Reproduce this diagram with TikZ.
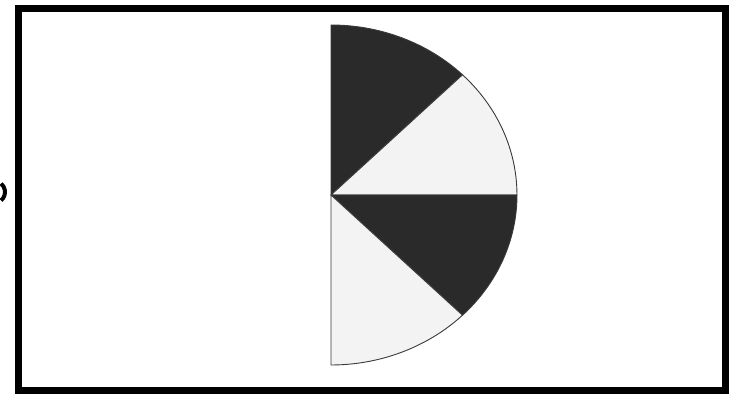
\documentclass[tikz,border=0pt]{standalone}
\usetikzlibrary{calc}
\definecolor{darkfill}{HTML}{2A2A2A}
\definecolor{lightfill}{HTML}{F3F3F3}
\definecolor{edge}{HTML}{3A3A3A}
\tikzset{
  sector/.style={draw=edge, line width=0.9pt, line join=round},
  frame/.style={draw=black, line width=7pt},
}
\begin{document}
\begin{tikzpicture}[x=1pt,y=1pt]
  \useasboundingbox (0,0) rectangle (736,396);
  \fill[white] (0,0) rectangle (736,396);
  \draw[frame] (18,5) rectangle (725,387.5);
  % cut-off fragment at left edge
  \draw[black, line width=4pt] (-6,204) ++(-50:11pt) arc[start angle=-50, end angle=50, radius=11pt];
  \coordinate (c) at (331,201);
  \filldraw[sector, fill=darkfill] (c) -- ++(90:170pt) arc[start angle=90, end angle=45, x radius=186pt, y radius=170pt] -- cycle;
  \filldraw[sector, fill=lightfill] (c) -- ($(c)+(131.5,120.2)$) arc[start angle=45, end angle=0, x radius=186pt, y radius=170pt] -- cycle;
  \filldraw[sector, fill=darkfill] (c) -- ++(186,0) arc[start angle=0, end angle=-45, x radius=186pt, y radius=170pt] -- cycle;
  \filldraw[sector, fill=lightfill] (c) -- ($(c)+(131.5,-120.2)$) arc[start angle=-45, end angle=-90, x radius=186pt, y radius=170pt] -- cycle;
\end{tikzpicture}
\end{document}
